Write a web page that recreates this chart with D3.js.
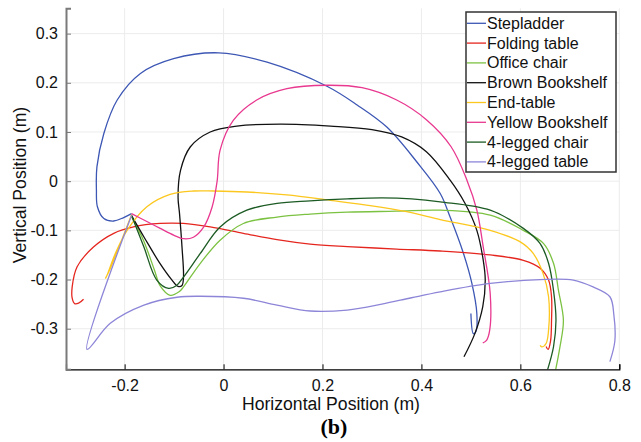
<!DOCTYPE html>
<html>
<head>
<meta charset="utf-8">
<script src="https://cdn.jsdelivr.net/npm/d3@7"></script>
<style>
  body { margin: 0; background: #fff; }
  svg { display: block; font-family: "Liberation Sans", Arial, sans-serif; }
</style>
</head>
<body>
<div class="chart-container"></div>
<script>
// --- Data (metres) ---
var seriesNames = ["Stepladder", "Folding table", "Office chair", "Brown Bookshelf",
                   "End-table", "Yellow Bookshelf", "4-legged chair", "4-legged table"];
var seriesColors = ["#3d57b4", "#e5261f", "#7cc242", "#111111",
                    "#fcc71e", "#e8388f", "#1d5b24", "#8d86d8"];

var stepladder = [[-0.186,-0.066],[-0.202,-0.074],[-0.222,-0.081],[-0.242,-0.076],[-0.255,-0.052],
  [-0.257,-0.018],[-0.256,0.029],[-0.242,0.097],[-0.215,0.165],[-0.168,0.219],[-0.101,0.249],
  [-0.010,0.261],[0.088,0.242],[0.209,0.193],[0.27,0.155],[0.33,0.11],[0.39,0.04],[0.438,-0.025],
  [0.458,-0.073],[0.485,-0.147],[0.502,-0.208],[0.512,-0.269],[0.510,-0.306],[0.505,-0.310],[0.500,-0.269]];

var foldingTable = [[-0.283,-0.240],[-0.293,-0.248],[-0.301,-0.249],[-0.306,-0.238],[-0.306,-0.215],
  [-0.296,-0.174],[-0.263,-0.134],[-0.222,-0.106],[-0.182,-0.093],[-0.128,-0.086],[-0.081,-0.086],
  [-0.027,-0.093],[0.040,-0.106],[0.108,-0.119],[0.175,-0.128],[0.25,-0.133],[0.35,-0.138],
  [0.438,-0.142],[0.539,-0.150],[0.606,-0.161],[0.640,-0.177],[0.657,-0.201],[0.663,-0.235],
  [0.663,-0.283],[0.661,-0.325],[0.656,-0.342],[0.652,-0.336]];

var officeChair = [[-0.186,-0.072],[-0.162,-0.12],[-0.14,-0.18],[-0.128,-0.213],[-0.108,-0.232],
  [-0.09,-0.225],[-0.081,-0.215],[-0.047,-0.167],[-0.007,-0.12],[0.040,-0.086],[0.108,-0.073],
  [0.175,-0.067],[0.25,-0.063],[0.35,-0.061],[0.438,-0.059],[0.539,-0.069],[0.606,-0.1],
  [0.647,-0.127],[0.667,-0.167],[0.677,-0.222],[0.687,-0.283],[0.680,-0.337],[0.670,-0.39]];

var brownBookshelf = [[-0.186,-0.07],[-0.16,-0.115],[-0.13,-0.165],[-0.105,-0.2],[-0.092,-0.214],
  [-0.084,-0.212],[-0.081,-0.195],[-0.084,-0.134],[-0.089,-0.066],[-0.092,-0.032],[-0.087,0.022],
  [-0.067,0.070],[-0.027,0.100],[0.027,0.112],[0.115,0.116],[0.216,0.112],[0.3,0.105],[0.36,0.09],
  [0.41,0.06],[0.458,0.002],[0.488,-0.045],[0.512,-0.1],[0.525,-0.161],[0.529,-0.201],
  [0.524,-0.255],[0.508,-0.310],[0.486,-0.357]];

var endTable = [[-0.186,-0.068],[-0.21,-0.13],[-0.23,-0.18],[-0.239,-0.198],[-0.235,-0.19],
  [-0.22,-0.15],[-0.195,-0.1],[-0.155,-0.052],[-0.108,-0.027],[-0.06,-0.02],[-0.02,-0.02],
  [0.047,-0.022],[0.128,-0.028],[0.216,-0.039],[0.3,-0.05],[0.37,-0.062],[0.438,-0.078],
  [0.539,-0.1],[0.599,-0.123],[0.626,-0.147],[0.646,-0.188],[0.657,-0.235],[0.657,-0.303],
  [0.652,-0.330],[0.643,-0.337],[0.640,-0.334]];

var yellowBookshelf = [[-0.186,-0.066],[-0.155,-0.082],[-0.128,-0.096],[-0.1,-0.11],[-0.081,-0.117],
  [-0.061,-0.114],[-0.040,-0.093],[-0.023,-0.052],[-0.013,0.0],[-0.007,0.063],[0.020,0.124],
  [0.067,0.165],[0.128,0.188],[0.209,0.195],[0.28,0.19],[0.35,0.165],[0.41,0.125],[0.46,0.07],
  [0.492,0.002],[0.512,-0.059],[0.525,-0.134],[0.539,-0.228],[0.538,-0.303],[0.532,-0.323],[0.524,-0.329]];

var fourLeggedChair = [[-0.186,-0.07],[-0.161,-0.134],[-0.135,-0.201],[-0.111,-0.218],[-0.095,-0.212],
  [-0.081,-0.195],[-0.047,-0.147],[-0.007,-0.093],[0.047,-0.059],[0.108,-0.045],[0.175,-0.040],
  [0.25,-0.036],[0.32,-0.034],[0.38,-0.036],[0.438,-0.042],[0.539,-0.059],[0.606,-0.096],
  [0.640,-0.127],[0.657,-0.167],[0.667,-0.222],[0.672,-0.283],[0.667,-0.337],[0.653,-0.39]];

var fourLeggedTable = [[-0.186,-0.07],[-0.276,-0.342],[-0.229,-0.289],[-0.161,-0.252],[-0.094,-0.236],
  [-0.047,-0.234],[0.040,-0.238],[0.108,-0.252],[0.175,-0.264],[0.25,-0.262],[0.32,-0.25],
  [0.38,-0.237],[0.438,-0.225],[0.539,-0.208],[0.640,-0.200],[0.707,-0.201],[0.747,-0.215],
  [0.781,-0.235],[0.789,-0.272],[0.791,-0.325],[0.781,-0.367]];

var allSeries = [stepladder, foldingTable, officeChair, brownBookshelf,
                 endTable, yellowBookshelf, fourLeggedChair, fourLeggedTable];

var xTicks = [-0.2, 0, 0.2, 0.4, 0.6, 0.8];
var yTicks = [-0.3, -0.2, -0.1, 0, 0.1, 0.2, 0.3];

// --- Layout ---
const w = 641;
const h = 442;
const plotLeft = 66, plotRight = 619.3, plotTop = 8.3, plotBottom = 369.3;

var xScale = d3.scaleLinear().domain([-0.3185, 0.8]).range([plotLeft, plotRight]);
var yScale = d3.scaleLinear().domain([-0.3825, 0.3515]).range([plotBottom, plotTop]);

var svg = d3.select(".chart-container")
    .append("svg")
    .attr("width", w)
    .attr("height", h);

svg.append("defs").append("clipPath")
    .attr("id", "plotClip")
    .append("rect")
    .attr("x", plotLeft).attr("y", plotTop)
    .attr("width", plotRight - plotLeft).attr("height", plotBottom - plotTop);

// Grid lines
svg.append("g").selectAll("line")
    .data(xTicks)
    .enter().append("line")
    .attr("x1", d => xScale(d)).attr("x2", d => xScale(d))
    .attr("y1", plotTop).attr("y2", plotBottom)
    .attr("stroke", "#ececec").attr("stroke-width", 1);

svg.append("g").selectAll("line")
    .data(yTicks)
    .enter().append("line")
    .attr("x1", plotLeft).attr("x2", plotRight)
    .attr("y1", d => yScale(d)).attr("y2", d => yScale(d))
    .attr("stroke", "#ececec").attr("stroke-width", 1);

// Trajectories
var line = d3.line()
    .x(d => xScale(d[0]))
    .y(d => yScale(d[1]))
    .curve(d3.curveCatmullRom.alpha(0.5));

svg.append("g")
    .attr("clip-path", "url(#plotClip)")
    .selectAll("path")
    .data(allSeries)
    .enter().append("path")
    .attr("d", line)
    .attr("fill", "none")
    .attr("stroke", (d, i) => seriesColors[i])
    .attr("stroke-width", 1.3);

// Axes
var fmt = d => d === 0 ? "0" : d3.format(".1f")(d).replace("\u2212", "-");
var xAxis = d3.axisBottom(xScale).tickValues(xTicks).tickSize(-5).tickPadding(10).tickFormat(fmt);
var yAxis = d3.axisLeft(yScale).tickValues(yTicks).tickSize(-5).tickPadding(8).tickFormat(fmt);

var gx = svg.append("g")
    .attr("transform", "translate(0," + plotBottom + ")")
    .call(xAxis);
gx.select(".domain").attr("stroke", "#000").attr("stroke-width", 1.2);
gx.selectAll(".tick line").attr("stroke", "#000");
gx.selectAll("text").attr("font-size", "16px").attr("fill", "#111")
    .attr("font-family", "Liberation Sans, Arial, sans-serif");

var gy = svg.append("g")
    .attr("transform", "translate(" + plotLeft + ",0)")
    .call(yAxis);
gy.select(".domain").attr("stroke", "#7a7a7a").attr("stroke-width", 2);
gy.selectAll(".tick line").attr("stroke", "#7a7a7a");
gy.selectAll("text").attr("font-size", "16px").attr("fill", "#111")
    .attr("font-family", "Liberation Sans, Arial, sans-serif");

// Axis titles
svg.append("text")
    .attr("x", 331).attr("y", 410)
    .attr("text-anchor", "middle")
    .attr("font-size", "17.6px").attr("fill", "#111")
    .text("Horizontal Position (m)");

svg.append("text")
    .attr("transform", "translate(26,185) rotate(-90)")
    .attr("text-anchor", "middle")
    .attr("font-size", "17.6px").attr("fill", "#111")
    .text("Vertical Position (m)");

svg.append("text")
    .attr("x", 334).attr("y", 434)
    .attr("text-anchor", "middle")
    .attr("font-family", "Liberation Serif, Times New Roman, serif")
    .attr("font-weight", "bold")
    .attr("font-size", "22px").attr("fill", "#000")
    .text("(b)");

// Legend
var legend = svg.append("g");
legend.append("rect")
    .attr("x", 466).attr("y", 12)
    .attr("width", 150).attr("height", 160)
    .attr("fill", "#fff")
    .attr("stroke", "#333").attr("stroke-width", 1.5);

var items = legend.selectAll("g.item")
    .data(seriesNames)
    .enter().append("g")
    .attr("class", "item")
    .attr("transform", (d, i) => "translate(0," + (23.3 + i * 19.8) + ")");

items.append("line")
    .attr("x1", 467).attr("x2", 486)
    .attr("stroke", (d, i) => seriesColors[i])
    .attr("stroke-width", 1.3);

items.append("text")
    .attr("x", 487).attr("y", 5.5)
    .attr("font-size", "16px").attr("fill", "#111")
    .text(d => d);
</script>
</body>
</html>
